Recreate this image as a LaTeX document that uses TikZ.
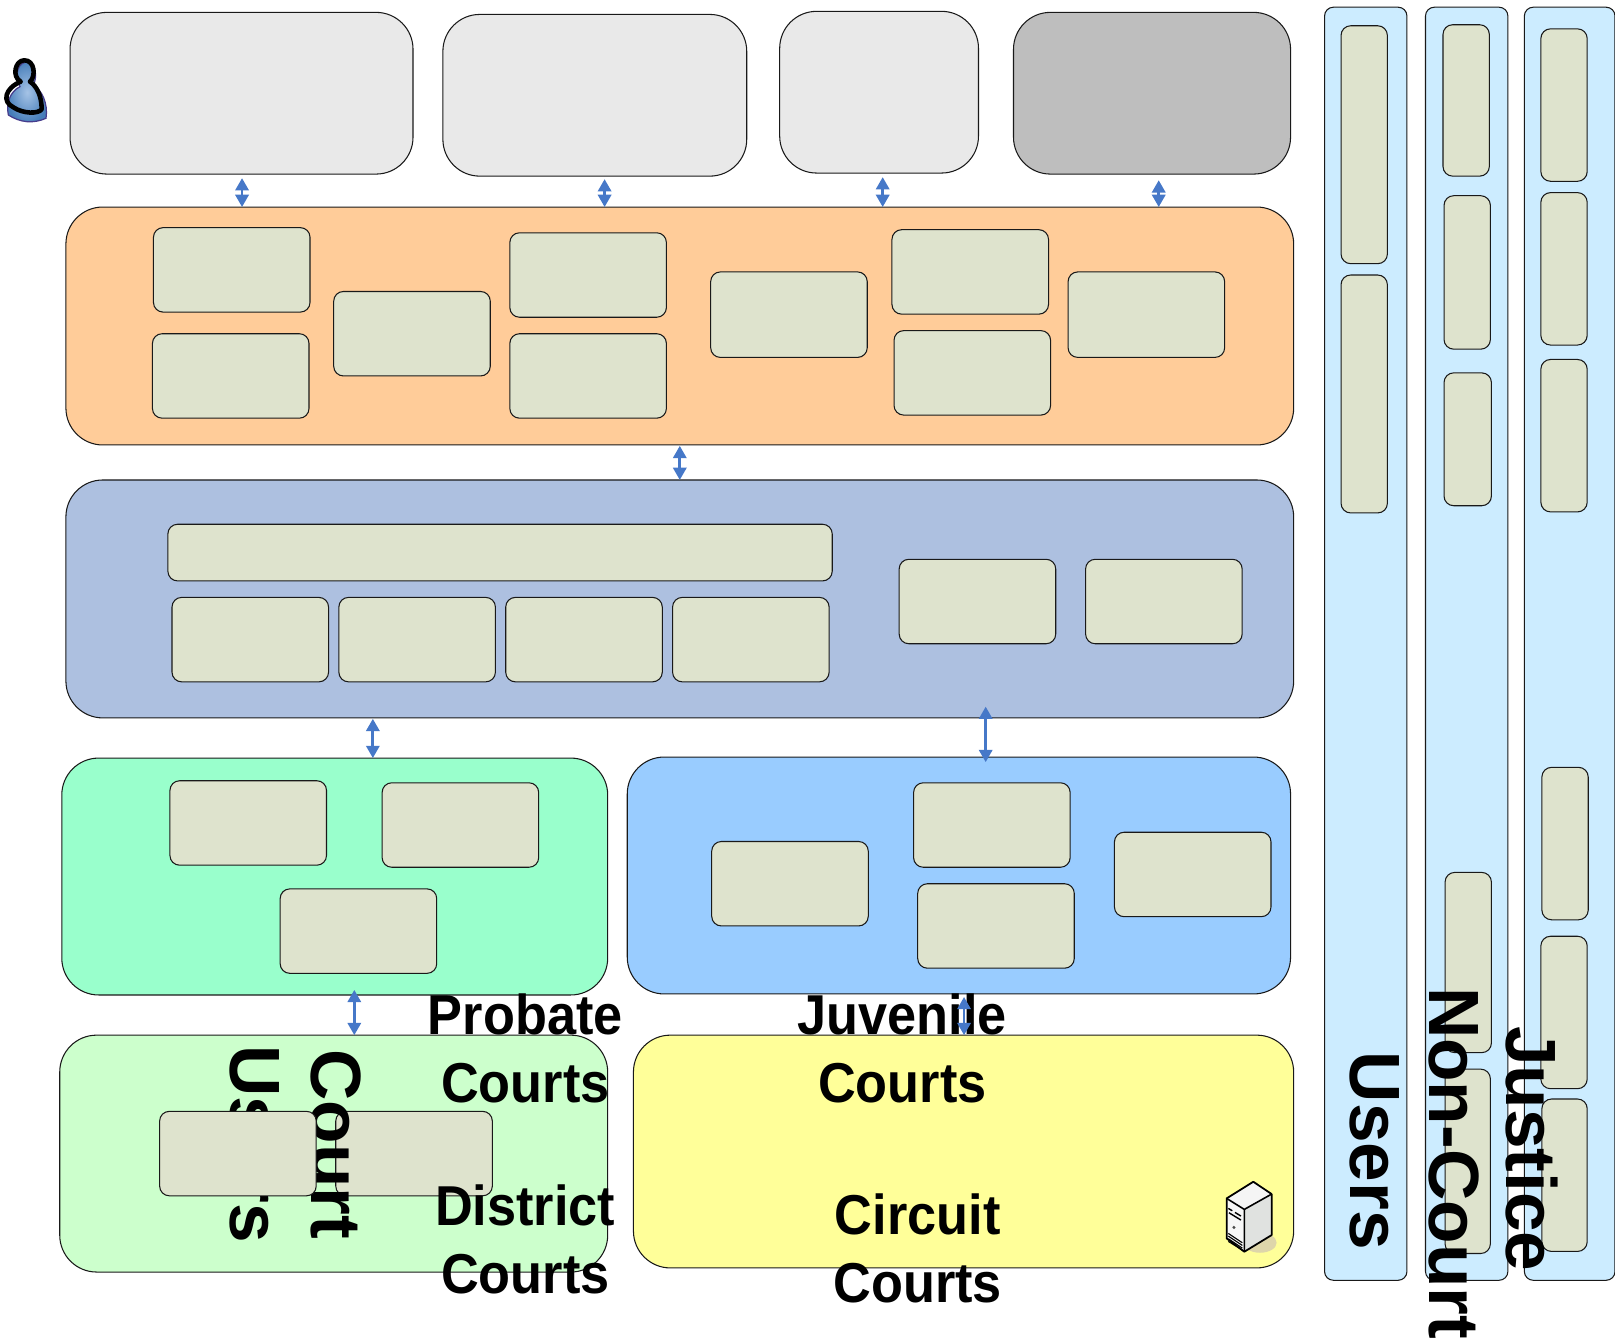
\documentclass[tikz,border=0pt]{standalone}
\usepackage{fontspec}
\setmainfont{Liberation Sans}
\newfontfamily\hlab[FakeStretch=0.93]{Liberation Sans}
\usetikzlibrary{arrows.meta,fit}
\definecolor{boxfill}{HTML}{DEE3CD}
\definecolor{arrowblue}{HTML}{4678C8}
\definecolor{lanefill}{HTML}{CCECFF}
\definecolor{palegray}{HTML}{E9E9E9}
\definecolor{darkgray}{HTML}{BEBEBE}
\tikzset{
  base/.style={draw=black!90,line width=0.6pt,inner sep=0pt,outer sep=0pt},
  big/.style={base,rounded corners=21pt},
  inbox/.style={base,rounded corners=5.5pt,fill=boxfill},
  lane/.style={base,rounded corners=5pt,fill=lanefill},
  biarrow/.style={draw=arrowblue,line width=1.6pt,{Triangle[length=7pt,width=7.5pt]}-{Triangle[length=7pt,width=7.5pt]}},
  hlabel/.style={inner sep=0pt,align=center,font=\hlab\bfseries\fontsize{32}{38.5}\selectfont},
  vlabel/.style={inner sep=0pt,rotate=-90,font=\bfseries\fontsize{40.5}{46}\selectfont},
}
\newcommand{\bx}[6]{\node[#2,fit={(#3,#4)(#5,#6)}] (#1) {};}
\begin{document}
\begin{tikzpicture}[x=0.0205995cm,y=-0.0205995cm]
\useasboundingbox (0,0) rectangle (1568,1304);
% top row
\bx{ta}{big,fill=palegray}{68}{12}{401}{169}
\bx{tb}{big,fill=palegray}{430}{14}{725}{171}
\bx{tc}{big,fill=palegray}{757}{11}{950}{168}
\bx{td}{big,fill=darkgray}{984}{12}{1253}{169}
% orange layer
\bx{orange}{big,fill={rgb,255:red,255;green,204;blue,153}}{64}{201}{1256}{432}
\bx{o1}{inbox}{149}{221}{301}{303}
\bx{o2}{inbox}{148}{324}{300}{406}
\bx{o3}{inbox}{324}{283}{476}{365}
\bx{o4}{inbox}{495}{226}{647}{308}
\bx{o5}{inbox}{495}{324}{647}{406}
\bx{o6}{inbox}{690}{264}{842}{347}
\bx{o7}{inbox}{866}{223}{1018}{305}
\bx{o8}{inbox}{868}{321}{1020}{403}
\bx{o9}{inbox}{1037}{264}{1189}{347}
% blue layer
\bx{blue}{big,fill={rgb,255:red,173;green,192;blue,224}}{64}{466}{1256}{697}
\bx{b0}{inbox}{163}{509}{808}{564}
\bx{b1}{inbox}{167}{580}{319}{662}
\bx{b2}{inbox}{329}{580}{481}{662}
\bx{b3}{inbox}{491}{580}{643}{662}
\bx{b4}{inbox}{653}{580}{805}{662}
\bx{b5}{inbox}{873}{543}{1025}{625}
\bx{b6}{inbox}{1054}{543}{1206}{625}
% probate
\bx{prob}{big,fill={rgb,255:red,153;green,255;blue,204}}{60}{736}{590}{966}
\bx{p1}{inbox}{165}{758}{317}{840}
\bx{p2}{inbox}{371}{760}{523}{842}
\bx{p3}{inbox}{272}{863}{424}{945}
% juvenile
\bx{juv}{big,fill={rgb,255:red,153;green,204;blue,255}}{609}{735}{1253}{965}
\bx{j1}{inbox}{691}{817}{843}{899}
\bx{j2}{inbox}{887}{760}{1039}{842}
\bx{j3}{inbox}{891}{858}{1043}{940}
\bx{j4}{inbox}{1082}{808}{1234}{890}
% district and circuit
\bx{dist}{big,fill={rgb,255:red,204;green,255;blue,204}}{58}{1005}{590}{1235}
\bx{d2}{inbox}{326}{1079}{478}{1161}
\bx{circ}{big,fill={rgb,255:red,255;green,255;blue,153}}{615}{1005}{1256}{1231}
% lanes
\bx{l1}{lane}{1286}{7}{1366}{1243}
\bx{l2}{lane}{1384}{7}{1464}{1243}
\bx{l3}{lane}{1480}{7}{1568}{1243}
\bx{u1}{inbox}{1302}{25}{1347}{256}
\bx{u2}{inbox}{1302}{267}{1347}{498}
\bx{n1}{inbox}{1401}{24}{1446}{171}
\bx{n2}{inbox}{1402}{190}{1447}{339}
\bx{n3}{inbox}{1402}{362}{1448}{491}
\bx{n4}{inbox}{1403}{847}{1448}{1022}
\bx{n5}{inbox}{1403}{1038}{1447}{1217}
\bx{s1}{inbox}{1496}{28}{1541}{176}
\bx{s2}{inbox}{1496}{187}{1541}{335}
\bx{s3}{inbox}{1496}{349}{1541}{497}
\bx{s4}{inbox}{1497}{745}{1542}{893}
\bx{s5}{inbox}{1496}{909}{1541}{1057}
\bx{s6}{inbox}{1497}{1067}{1541}{1215}
% server icon
\begin{scope}[shift={(1179.6,1136)},x=0.0066667cm,y=-0.0066667cm]
  \fill[fill={rgb,255:red,222;green,214;blue,170}] (135,218) ellipse (50 and 30);
  \fill[black!4] (115,35) -- (35,85) -- (88,118) -- (170,72) -- cycle;
  \fill[black!3] (35,85) -- (88,118) -- (88,245) -- (35,205) -- cycle;
  \fill[green!5!black!12] (88,118) -- (170,72) -- (170,195) -- (88,245) -- cycle;
  \draw[line width=1pt,line join=round] (115,35) -- (35,85) -- (35,205) -- (88,245) -- (170,195) -- (170,72) -- cycle;
  \draw[line width=0.9pt] (35,85) -- (88,118) -- (170,72) (88,118) -- (88,245);
  \draw[line width=0.8pt] (40,115) -- (52,122) (60,127) -- (78,138) (42,128) -- (78,150);
  \fill[black!70] (57,172) circle (5);
  \draw[line width=0.6pt] (40,190) -- (82,218) (40,198) -- (82,226) (40,206) -- (82,234) (40,214) -- (82,240);
\end{scope}
% labels over the boxes
\node[vlabel,align=center] (court) at (287,1111) {Court\\Users};
\node[vlabel,anchor=base west] (lusers) at (1311,1021) {Users};
\node[vlabel,anchor=base west] (lnon) at (1388,958) {Non-Court};
\node[vlabel,anchor=base west] (ljus) at (1463,996) {Justice};
\node[hlabel] (lprob) at (510,1018) {Probate\\Courts};
\node[hlabel] (ljuv) at (876,1018) {Juvenile\\Courts};
\node[hlabel] (ldist) at (510,1203) {District\\Courts};
\node[hlabel] (lcirc) at (891,1212) {Circuit\\Courts};
\bx{d1}{inbox}{155}{1079}{307}{1161}
% person icon
\begin{scope}[shift={(0,48.5)},x=0.0066667cm,y=-0.0066667cm]
  \shade[inner color={rgb,255:red,165;green,195;blue,230},outer color={rgb,255:red,70;green,125;blue,185},draw={rgb,255:red,70;green,60;blue,140},line width=0.7pt]
    (25,195) .. controls (18,160) and (30,125) .. (60,110) .. controls (48,90) and (45,45) .. (75,37)
    .. controls (110,32) and (112,85) .. (100,105) .. controls (125,120) and (145,160) .. (138,205)
    .. controls (100,222) and (60,218) .. (25,195) -- cycle;
  \draw[line width=2.6pt,line join=round]
    (62,95) .. controls (35,80) and (45,32) .. (72,31) .. controls (105,30) and (108,80) .. (90,95)
    .. controls (112,110) and (125,140) .. (125,178) .. controls (115,192) and (70,192) .. (40,172)
    .. controls (5,155) and (15,115) .. (62,95) -- cycle;
\end{scope}
% connectors
\draw[biarrow,shorten <=2.3pt] (235,0 |- ta.south) -- (235,0 |- orange.north);
\draw[biarrow,shorten <=1.7pt] (587,0 |- tb.south) -- (587,0 |- orange.north);
\draw[biarrow,shorten <=2.3pt] (857,0 |- tc.south) -- (857,0 |- orange.north);
\draw[biarrow,shorten <=3.5pt] (1125,0 |- td.south) -- (1125,0 |- orange.north);
\draw[biarrow,shorten <=0.5pt] (660,0 |- orange.south) -- (660,0 |- blue.north);
\draw[biarrow,shorten <=0.5pt] (362,0 |- blue.south) -- (362,0 |- prob.north);
\draw[biarrow,shorten <=-6.4pt,shorten >=-2.9pt] (957,0 |- blue.south) -- (957,0 |- juv.north);
\draw[biarrow,shorten <=-2.9pt] (344,0 |- prob.south) -- (344,0 |- dist.north);
\draw[biarrow,shorten <=1.7pt] (936,0 |- juv.south) -- (936,0 |- circ.north);
\end{tikzpicture}
\end{document}
